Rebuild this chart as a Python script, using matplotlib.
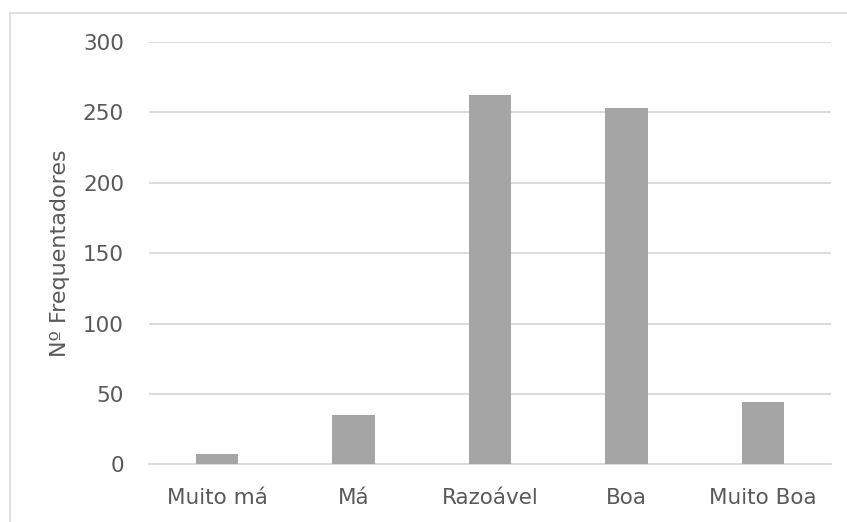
import matplotlib
matplotlib.use("Agg")
import matplotlib.pyplot as plt
from matplotlib.patches import Rectangle

categories = ["Muito má", "Má", "Razoável", "Boa", "Muito Boa"]
counts = [7, 35, 262, 253, 44]
y_ticks = [0, 50, 100, 150, 200, 250, 300]

W, H = 847, 522
TEXT = "#595959"
GRID = "#d9d9d9"
BAR = "#a5a5a5"

plt.rcParams["font.family"] = ["DejaVu Sans"]

fig = plt.figure(figsize=(W / 100, H / 100), dpi=100)
# plot area in pixels: x 149..831, y 42..464
ax = fig.add_axes([149 / W, 1 - 464.3 / H, (831 - 149) / W, (464.3 - 42) / H])

x = range(len(categories))
ax.bar(x, counts, width=0.31, color=BAR, zorder=3)

ax.set_xlim(-0.5, len(categories) - 0.5)
ax.set_ylim(0, 300)
ax.set_yticks(y_ticks)
ax.set_xticks(list(x))
ax.set_xticklabels(categories)
ax.tick_params(axis="both", length=0, colors=TEXT, labelsize=15.5)
ax.tick_params(axis="y", pad=18)
ax.tick_params(axis="x", pad=17)
ax.grid(axis="y", color=GRID, linewidth=1.3, zorder=0)
for side in ["top", "right", "left"]:
    ax.spines[side].set_visible(False)
ax.spines["bottom"].set_color(GRID)
ax.spines["bottom"].set_linewidth(1.3)

ax.set_ylabel("Nº Frequentadores", color=TEXT, fontsize=16, labelpad=9)

# outer chart frame
fig.patches.append(Rectangle((10 / W, -0.1), 1.2, 1.1 - 13 / H, transform=fig.transFigure,
                             fill=False, edgecolor=GRID, linewidth=1.2))

fig.savefig("out.png", dpi=100)
